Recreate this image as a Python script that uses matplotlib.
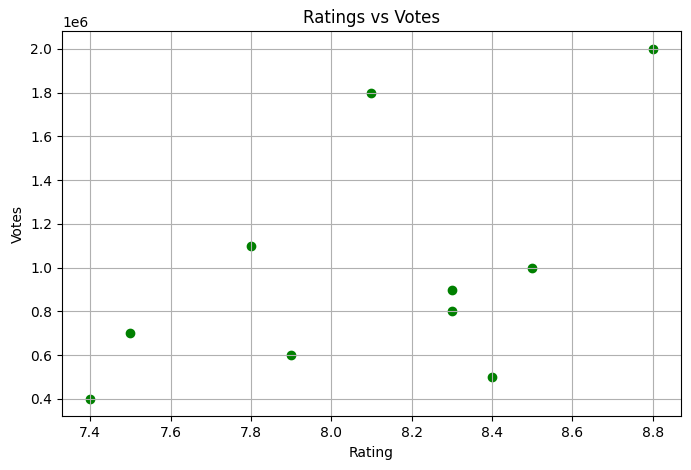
import matplotlib
matplotlib.use("Agg")
import matplotlib.pyplot as plt

ratings = [7.4, 7.5, 7.8, 7.9, 8.1, 8.3, 8.3, 8.4, 8.5, 8.8]
votes = [400000, 700000, 1100000, 600000, 1800000, 900000, 800000, 500000, 1000000, 2000000]

fig, ax = plt.subplots(figsize=(6.91, 4.70), dpi=100)
fig.subplots_adjust(left=0.0897, right=0.9855, top=0.933, bottom=0.114)

ax.scatter(ratings, votes, color="green")
ax.set_title("Ratings vs Votes")
ax.set_xlabel("Rating")
ax.set_ylabel("Votes")
ax.grid(True)

fig.savefig("out.png", dpi=100)
